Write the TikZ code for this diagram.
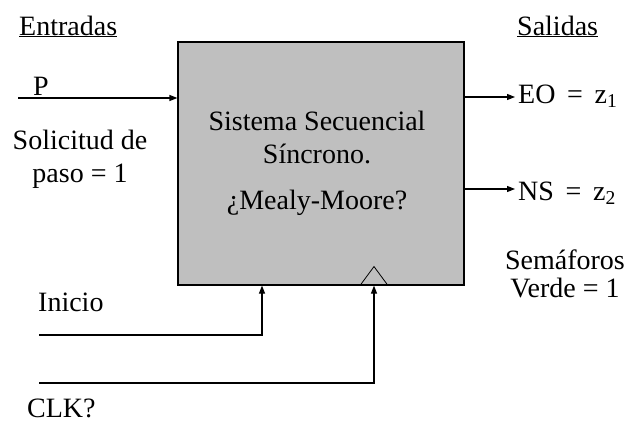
\documentclass[tikz,border=0pt]{standalone}
\usepackage{fontspec}
\setmainfont{Liberation Serif}
\usetikzlibrary{arrows.meta,calc}
\begin{document}
\begin{tikzpicture}[x=1pt,y=-1pt,
  lbl/.style={inner sep=0pt,anchor=base west,font=\fontsize{28}{32}\selectfont},
  clbl/.style={inner sep=0pt,anchor=base,font=\fontsize{28}{32}\selectfont},
  wire/.style={line width=1.1pt},
  arr/.style={wire,-{Triangle[length=8pt,width=6pt]}},
  sysbox/.style={draw,line width=1.1pt,fill=black!25,minimum width=286pt,minimum height=243pt,inner sep=0pt}]
\useasboundingbox (0,0) rectangle (633,423);
\node[sysbox] (sys) at (321,163.5) {};
\node[clbl] (t1) at (317,130) {Sistema Secuencial};
\node[clbl] (t2) at (317,163) {Síncrono.};
\node[clbl] (t3) at (317,209) {¿Mealy-Moore?};
% labels
\node[lbl] (ent) at (19,35) {\underline{Entradas}};
\node[lbl] (sal) at (517,35) {\underline{Salidas}};
\node[lbl] (p) at (33,95) {P};
\node[clbl] (sol1) at (80,149) {Solicitud de};
\node[clbl] (sol2) at (80,182) {paso = 1};
\node[lbl] (eo) at (518,103) {EO\ \,=\ \,z\textsubscript{1}};
\node[lbl] (ns) at (518,200) {NS\ \,=\ \,z\textsubscript{2}};
\node[clbl] (sem1) at (565,269) {Semáforos};
\node[clbl] (sem2) at (565,297) {Verde = 1};
\node[lbl] (ini) at (38,311) {Inicio};
\node[lbl] (clk) at (27,417) {CLK?};
% connectors
\coordinate (pin) at (18,98);
\coordinate (eoend) at (515,97);
\coordinate (nsend) at (515,189);
\coordinate (iniin) at (39,335);
\coordinate (clkin) at (39,383);
\coordinate (inix) at (262,0);
\coordinate (clkx) at (374,0);
\draw[arr] (pin) -- (pin -| sys.west);
\draw[arr] (eoend -| sys.east) -- (eoend);
\draw[arr] (nsend -| sys.east) -- (nsend);
\draw[arr] (iniin) -| (inix |- sys.south);
\draw[arr] (clkin) -| (clkx |- sys.south);
\draw[line width=0.8pt] ($(clkx |- sys.south)+(-14,0)$) -- ($(clkx |- sys.south)+(0,-19)$) -- ($(clkx |- sys.south)+(14,0)$);
\end{tikzpicture}
\end{document}
